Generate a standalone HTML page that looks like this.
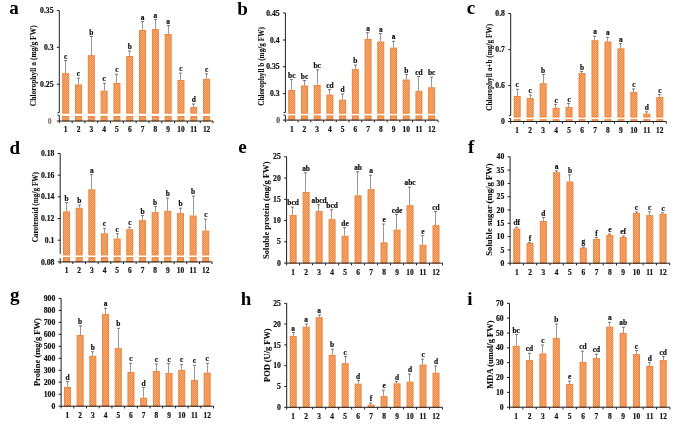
<!DOCTYPE html>
<html><head><meta charset="utf-8"><title>Figure</title>
<style>
html,body{margin:0;padding:0;background:#fff;}
svg{display:block;will-change:transform;filter:blur(0.3px);}
text{font-family:"Liberation Serif",serif;font-weight:bold;fill:#111;stroke:#111;stroke-width:0.2px;}
.pl{font-size:19px;fill:#000;stroke:none;}
.ti{stroke-width:0.08px;}
.lb{font-size:7.4px;}
.xl{font-size:7.4px;}
.yl{font-size:7.7px;}
.g0{font-size:7.6px;}
.ga{fill:#7a7a7a;stroke:#7a7a7a;}
.gb{fill:#555;stroke:#555;}
.bar{fill:url(#pat);stroke:#ee843a;stroke-width:1;}
.eb{stroke:#999;stroke-width:1;}
.ec{stroke:#6a6a6a;stroke-width:0.9;}
.ax{stroke:#1e1e1e;stroke-width:1;fill:none;}
</style></head>
<body>
<svg width="685" height="424" viewBox="0 0 685 424">
<defs>
<pattern id="pat" width="2" height="2" patternUnits="userSpaceOnUse">
<rect width="2" height="2" fill="#ee9150"/>
<rect width="1" height="1" fill="#f2a66c"/>
<rect x="1" y="1" width="1" height="1" fill="#f2a66c"/>
</pattern>
</defs>
<rect width="685" height="424" fill="#fff"/>
<text x="9.3" y="13.9" class="pl">a</text>
<text class="ti" style="font-size:7.5px" transform="translate(36.30,65.75) rotate(-90)" text-anchor="middle">Chlorophyll a (mg/g FW)</text>
<rect class="bar" x="62.70" y="73.65" width="6.0" height="39.45"/>
<rect class="bar" x="62.70" y="116.50" width="6.0" height="4.50"/>
<line class="eb" x1="65.50" y1="73.15" x2="65.50" y2="60.50"/>
<line class="ec" x1="64.00" y1="60.50" x2="67.00" y2="60.50"/>
<text class="lb" x="65.70" y="58.60" text-anchor="middle">c</text>
<text class="xl" x="65.70" y="132.40" text-anchor="middle">1</text>
<rect class="bar" x="75.51" y="84.95" width="6.0" height="28.15"/>
<rect class="bar" x="75.51" y="116.50" width="6.0" height="4.50"/>
<line class="eb" x1="78.50" y1="84.45" x2="78.50" y2="78.10"/>
<line class="ec" x1="77.00" y1="78.10" x2="80.00" y2="78.10"/>
<text class="lb" x="78.51" y="76.20" text-anchor="middle">c</text>
<text class="xl" x="78.51" y="132.40" text-anchor="middle">2</text>
<rect class="bar" x="88.32" y="55.65" width="6.0" height="57.45"/>
<rect class="bar" x="88.32" y="116.50" width="6.0" height="4.50"/>
<line class="eb" x1="91.50" y1="55.15" x2="91.50" y2="36.50"/>
<line class="ec" x1="90.00" y1="36.50" x2="93.00" y2="36.50"/>
<text class="lb" x="91.32" y="34.60" text-anchor="middle">b</text>
<text class="xl" x="91.32" y="132.40" text-anchor="middle">3</text>
<rect class="bar" x="101.13" y="91.15" width="6.0" height="21.95"/>
<rect class="bar" x="101.13" y="116.50" width="6.0" height="4.50"/>
<line class="eb" x1="104.50" y1="90.65" x2="104.50" y2="83.20"/>
<line class="ec" x1="103.00" y1="83.20" x2="106.00" y2="83.20"/>
<text class="lb" x="104.13" y="81.30" text-anchor="middle">c</text>
<text class="xl" x="104.13" y="132.40" text-anchor="middle">4</text>
<rect class="bar" x="113.94" y="83.45" width="6.0" height="29.65"/>
<rect class="bar" x="113.94" y="116.50" width="6.0" height="4.50"/>
<line class="eb" x1="116.50" y1="82.95" x2="116.50" y2="74.30"/>
<line class="ec" x1="115.00" y1="74.30" x2="118.00" y2="74.30"/>
<text class="lb" x="116.94" y="72.40" text-anchor="middle">c</text>
<text class="xl" x="116.94" y="132.40" text-anchor="middle">5</text>
<rect class="bar" x="126.75" y="56.45" width="6.0" height="56.65"/>
<rect class="bar" x="126.75" y="116.50" width="6.0" height="4.50"/>
<line class="eb" x1="129.50" y1="55.95" x2="129.50" y2="51.00"/>
<line class="ec" x1="128.00" y1="51.00" x2="131.00" y2="51.00"/>
<text class="lb" x="129.75" y="49.10" text-anchor="middle">b</text>
<text class="xl" x="129.75" y="132.40" text-anchor="middle">6</text>
<rect class="bar" x="139.55" y="30.55" width="6.0" height="82.55"/>
<rect class="bar" x="139.55" y="116.50" width="6.0" height="4.50"/>
<line class="eb" x1="142.50" y1="30.05" x2="142.50" y2="21.40"/>
<line class="ec" x1="141.00" y1="21.40" x2="144.00" y2="21.40"/>
<text class="lb" x="142.55" y="19.50" text-anchor="middle">a</text>
<text class="xl" x="142.55" y="132.40" text-anchor="middle">7</text>
<rect class="bar" x="152.36" y="29.55" width="6.0" height="83.55"/>
<rect class="bar" x="152.36" y="116.50" width="6.0" height="4.50"/>
<line class="eb" x1="155.50" y1="29.05" x2="155.50" y2="19.50"/>
<line class="ec" x1="154.00" y1="19.50" x2="157.00" y2="19.50"/>
<text class="lb" x="155.36" y="17.60" text-anchor="middle">a</text>
<text class="xl" x="155.36" y="132.40" text-anchor="middle">8</text>
<rect class="bar" x="165.17" y="34.45" width="6.0" height="78.65"/>
<rect class="bar" x="165.17" y="116.50" width="6.0" height="4.50"/>
<line class="eb" x1="168.50" y1="33.95" x2="168.50" y2="25.50"/>
<line class="ec" x1="167.00" y1="25.50" x2="170.00" y2="25.50"/>
<text class="lb" x="168.17" y="23.60" text-anchor="middle">a</text>
<text class="xl" x="168.17" y="132.40" text-anchor="middle">9</text>
<rect class="bar" x="177.98" y="80.45" width="6.0" height="32.65"/>
<rect class="bar" x="177.98" y="116.50" width="6.0" height="4.50"/>
<line class="eb" x1="180.50" y1="79.95" x2="180.50" y2="73.20"/>
<line class="ec" x1="179.00" y1="73.20" x2="182.00" y2="73.20"/>
<text class="lb" x="180.98" y="71.30" text-anchor="middle">c</text>
<text class="xl" x="180.98" y="132.40" text-anchor="middle">10</text>
<rect class="bar" x="190.79" y="107.65" width="6.0" height="5.45"/>
<rect class="bar" x="190.79" y="116.50" width="6.0" height="4.50"/>
<line class="eb" x1="193.50" y1="107.15" x2="193.50" y2="104.00"/>
<line class="ec" x1="192.00" y1="104.00" x2="195.00" y2="104.00"/>
<text class="lb" x="193.79" y="102.10" text-anchor="middle">d</text>
<text class="xl" x="193.79" y="132.40" text-anchor="middle">11</text>
<rect class="bar" x="203.60" y="79.35" width="6.0" height="33.75"/>
<rect class="bar" x="203.60" y="116.50" width="6.0" height="4.50"/>
<line class="eb" x1="206.50" y1="78.85" x2="206.50" y2="73.90"/>
<line class="ec" x1="205.00" y1="73.90" x2="208.00" y2="73.90"/>
<text class="lb" x="206.60" y="72.00" text-anchor="middle">c</text>
<text class="xl" x="206.60" y="132.40" text-anchor="middle">12</text>
<path class="ax" d="M59.3,10.6 V112.4 M59.3,115.3 V121.0"/>
<path class="ax" d="M57.5,112.7 L59.3,112.4 M57.5,115.0 L59.3,115.3"/>
<path class="ax" d="M59.3,121.0 H213.0"/>
<path class="ax" d="M56.8,10.60 H59.3"/>
<text class="yl" x="53.50" y="13.20" text-anchor="end">0.35</text>
<path class="ax" d="M56.8,47.30 H59.3"/>
<text class="yl" x="53.50" y="49.90" text-anchor="end">0.3</text>
<path class="ax" d="M56.8,84.20 H59.3"/>
<text class="yl" x="53.50" y="86.80" text-anchor="end">0.25</text>
<path class="ax" d="M56.8,121.00 H59.3"/>
<text class="yl g0 ga" x="51.60" y="123.60" text-anchor="end">0</text>
<path class="ax" d="M59.30,121.0 V123.2"/>
<path class="ax" d="M72.11,121.0 V123.2"/>
<path class="ax" d="M84.92,121.0 V123.2"/>
<path class="ax" d="M97.72,121.0 V123.2"/>
<path class="ax" d="M110.53,121.0 V123.2"/>
<path class="ax" d="M123.34,121.0 V123.2"/>
<path class="ax" d="M136.15,121.0 V123.2"/>
<path class="ax" d="M148.96,121.0 V123.2"/>
<path class="ax" d="M161.77,121.0 V123.2"/>
<path class="ax" d="M174.57,121.0 V123.2"/>
<path class="ax" d="M187.38,121.0 V123.2"/>
<path class="ax" d="M200.19,121.0 V123.2"/>
<path class="ax" d="M213.00,121.0 V123.2"/>
<text x="237.3" y="14.9" class="pl">b</text>
<text class="ti" style="font-size:7.25px" transform="translate(263.78,66.50) rotate(-90)" text-anchor="middle">Chlorophyll b (mg/g FW)</text>
<rect class="bar" x="288.76" y="90.45" width="6.0" height="22.75"/>
<rect class="bar" x="288.76" y="115.90" width="6.0" height="4.20"/>
<line class="eb" x1="291.50" y1="89.95" x2="291.50" y2="79.60"/>
<line class="ec" x1="290.00" y1="79.60" x2="293.00" y2="79.60"/>
<text class="lb" x="291.76" y="77.70" text-anchor="middle">bc</text>
<text class="xl" x="291.76" y="131.50" text-anchor="middle">1</text>
<rect class="bar" x="301.47" y="85.95" width="6.0" height="27.25"/>
<rect class="bar" x="301.47" y="115.90" width="6.0" height="4.20"/>
<line class="eb" x1="304.50" y1="85.45" x2="304.50" y2="80.50"/>
<line class="ec" x1="303.00" y1="80.50" x2="306.00" y2="80.50"/>
<text class="lb" x="304.47" y="78.60" text-anchor="middle">bc</text>
<text class="xl" x="304.47" y="131.50" text-anchor="middle">2</text>
<rect class="bar" x="314.19" y="85.45" width="6.0" height="27.75"/>
<rect class="bar" x="314.19" y="115.90" width="6.0" height="4.20"/>
<line class="eb" x1="317.50" y1="84.95" x2="317.50" y2="69.80"/>
<line class="ec" x1="316.00" y1="69.80" x2="319.00" y2="69.80"/>
<text class="lb" x="317.19" y="67.90" text-anchor="middle">bc</text>
<text class="xl" x="317.19" y="131.50" text-anchor="middle">3</text>
<rect class="bar" x="326.91" y="95.15" width="6.0" height="18.05"/>
<rect class="bar" x="326.91" y="115.90" width="6.0" height="4.20"/>
<line class="eb" x1="329.50" y1="94.65" x2="329.50" y2="89.70"/>
<line class="ec" x1="328.00" y1="89.70" x2="331.00" y2="89.70"/>
<text class="lb" x="329.91" y="87.80" text-anchor="middle">cd</text>
<text class="xl" x="329.91" y="131.50" text-anchor="middle">4</text>
<rect class="bar" x="339.62" y="100.15" width="6.0" height="13.05"/>
<rect class="bar" x="339.62" y="115.90" width="6.0" height="4.20"/>
<line class="eb" x1="342.50" y1="99.65" x2="342.50" y2="94.00"/>
<line class="ec" x1="341.00" y1="94.00" x2="344.00" y2="94.00"/>
<text class="lb" x="342.62" y="92.10" text-anchor="middle">d</text>
<text class="xl" x="342.62" y="131.50" text-anchor="middle">5</text>
<rect class="bar" x="352.34" y="69.65" width="6.0" height="43.55"/>
<rect class="bar" x="352.34" y="115.90" width="6.0" height="4.20"/>
<line class="eb" x1="355.50" y1="69.15" x2="355.50" y2="65.10"/>
<line class="ec" x1="354.00" y1="65.10" x2="357.00" y2="65.10"/>
<text class="lb" x="355.34" y="63.20" text-anchor="middle">b</text>
<text class="xl" x="355.34" y="131.50" text-anchor="middle">6</text>
<rect class="bar" x="365.06" y="39.45" width="6.0" height="73.75"/>
<rect class="bar" x="365.06" y="115.90" width="6.0" height="4.20"/>
<line class="eb" x1="367.50" y1="38.95" x2="367.50" y2="32.60"/>
<line class="ec" x1="366.00" y1="32.60" x2="369.00" y2="32.60"/>
<text class="lb" x="368.06" y="30.70" text-anchor="middle">a</text>
<text class="xl" x="368.06" y="131.50" text-anchor="middle">7</text>
<rect class="bar" x="377.77" y="42.05" width="6.0" height="71.15"/>
<rect class="bar" x="377.77" y="115.90" width="6.0" height="4.20"/>
<line class="eb" x1="380.50" y1="41.55" x2="380.50" y2="33.60"/>
<line class="ec" x1="379.00" y1="33.60" x2="382.00" y2="33.60"/>
<text class="lb" x="380.77" y="31.70" text-anchor="middle">a</text>
<text class="xl" x="380.77" y="131.50" text-anchor="middle">8</text>
<rect class="bar" x="390.49" y="48.15" width="6.0" height="65.05"/>
<rect class="bar" x="390.49" y="115.90" width="6.0" height="4.20"/>
<line class="eb" x1="393.50" y1="47.65" x2="393.50" y2="41.30"/>
<line class="ec" x1="392.00" y1="41.30" x2="395.00" y2="41.30"/>
<text class="lb" x="393.49" y="39.40" text-anchor="middle">a</text>
<text class="xl" x="393.49" y="131.50" text-anchor="middle">9</text>
<rect class="bar" x="403.21" y="80.05" width="6.0" height="33.15"/>
<rect class="bar" x="403.21" y="115.90" width="6.0" height="4.20"/>
<line class="eb" x1="406.50" y1="79.55" x2="406.50" y2="74.50"/>
<line class="ec" x1="405.00" y1="74.50" x2="408.00" y2="74.50"/>
<text class="lb" x="406.21" y="72.60" text-anchor="middle">b</text>
<text class="xl" x="406.21" y="131.50" text-anchor="middle">10</text>
<rect class="bar" x="415.93" y="91.55" width="6.0" height="21.65"/>
<rect class="bar" x="415.93" y="115.90" width="6.0" height="4.20"/>
<line class="eb" x1="418.50" y1="91.05" x2="418.50" y2="76.50"/>
<line class="ec" x1="417.00" y1="76.50" x2="420.00" y2="76.50"/>
<text class="lb" x="418.93" y="74.60" text-anchor="middle">cd</text>
<text class="xl" x="418.93" y="131.50" text-anchor="middle">11</text>
<rect class="bar" x="428.64" y="87.75" width="6.0" height="25.45"/>
<rect class="bar" x="428.64" y="115.90" width="6.0" height="4.20"/>
<line class="eb" x1="431.50" y1="87.25" x2="431.50" y2="77.20"/>
<line class="ec" x1="430.00" y1="77.20" x2="433.00" y2="77.20"/>
<text class="lb" x="431.64" y="75.30" text-anchor="middle">bc</text>
<text class="xl" x="431.64" y="131.50" text-anchor="middle">12</text>
<path class="ax" d="M285.4,13.0 V112.4 M285.4,115.3 V120.1"/>
<path class="ax" d="M283.59999999999997,112.7 L285.4,112.4 M283.59999999999997,115.0 L285.4,115.3"/>
<path class="ax" d="M285.4,120.1 H438.0"/>
<path class="ax" d="M282.9,13.00 H285.4"/>
<text class="yl" x="279.60" y="15.60" text-anchor="end">0.45</text>
<path class="ax" d="M282.9,40.00 H285.4"/>
<text class="yl" x="279.60" y="42.60" text-anchor="end">0.4</text>
<path class="ax" d="M282.9,66.80 H285.4"/>
<text class="yl" x="279.60" y="69.40" text-anchor="end">0.35</text>
<path class="ax" d="M282.9,93.60 H285.4"/>
<text class="yl" x="279.60" y="96.20" text-anchor="end">0.3</text>
<path class="ax" d="M282.9,120.10 H285.4"/>
<text class="yl g0 gb" x="280.10" y="122.70" text-anchor="end">0</text>
<path class="ax" d="M285.40,120.1 V122.3"/>
<path class="ax" d="M298.12,120.1 V122.3"/>
<path class="ax" d="M310.83,120.1 V122.3"/>
<path class="ax" d="M323.55,120.1 V122.3"/>
<path class="ax" d="M336.27,120.1 V122.3"/>
<path class="ax" d="M348.98,120.1 V122.3"/>
<path class="ax" d="M361.70,120.1 V122.3"/>
<path class="ax" d="M374.42,120.1 V122.3"/>
<path class="ax" d="M387.13,120.1 V122.3"/>
<path class="ax" d="M399.85,120.1 V122.3"/>
<path class="ax" d="M412.57,120.1 V122.3"/>
<path class="ax" d="M425.28,120.1 V122.3"/>
<path class="ax" d="M438.00,120.1 V122.3"/>
<text x="466.7" y="13.9" class="pl">c</text>
<text class="ti" style="font-size:7.3px" transform="translate(491.94,67.30) rotate(-90)" text-anchor="middle">Chlorophyll a+b (mg/g FW)</text>
<rect class="bar" x="514.18" y="96.45" width="6.0" height="20.55"/>
<rect class="bar" x="514.18" y="119.70" width="6.0" height="1.80"/>
<line class="eb" x1="517.50" y1="95.95" x2="517.50" y2="89.30"/>
<line class="ec" x1="516.00" y1="89.30" x2="519.00" y2="89.30"/>
<text class="lb" x="517.18" y="87.40" text-anchor="middle">c</text>
<text class="xl" x="517.18" y="132.90" text-anchor="middle">1</text>
<rect class="bar" x="527.15" y="98.45" width="6.0" height="18.55"/>
<rect class="bar" x="527.15" y="119.70" width="6.0" height="1.80"/>
<line class="eb" x1="530.50" y1="97.95" x2="530.50" y2="95.00"/>
<line class="ec" x1="529.00" y1="95.00" x2="532.00" y2="95.00"/>
<text class="lb" x="530.15" y="93.10" text-anchor="middle">c</text>
<text class="xl" x="530.15" y="132.90" text-anchor="middle">2</text>
<rect class="bar" x="540.12" y="83.75" width="6.0" height="33.25"/>
<rect class="bar" x="540.12" y="119.70" width="6.0" height="1.80"/>
<line class="eb" x1="543.50" y1="83.25" x2="543.50" y2="74.50"/>
<line class="ec" x1="542.00" y1="74.50" x2="545.00" y2="74.50"/>
<text class="lb" x="543.12" y="72.60" text-anchor="middle">b</text>
<text class="xl" x="543.12" y="132.90" text-anchor="middle">3</text>
<rect class="bar" x="553.08" y="108.25" width="6.0" height="8.75"/>
<rect class="bar" x="553.08" y="119.70" width="6.0" height="1.80"/>
<line class="eb" x1="555.50" y1="107.75" x2="555.50" y2="104.40"/>
<line class="ec" x1="554.00" y1="104.40" x2="557.00" y2="104.40"/>
<text class="lb" x="556.08" y="102.50" text-anchor="middle">c</text>
<text class="xl" x="556.08" y="132.90" text-anchor="middle">4</text>
<rect class="bar" x="566.05" y="107.55" width="6.0" height="9.45"/>
<rect class="bar" x="566.05" y="119.70" width="6.0" height="1.80"/>
<line class="eb" x1="568.50" y1="107.05" x2="568.50" y2="103.40"/>
<line class="ec" x1="567.00" y1="103.40" x2="570.00" y2="103.40"/>
<text class="lb" x="569.05" y="101.50" text-anchor="middle">c</text>
<text class="xl" x="569.05" y="132.90" text-anchor="middle">5</text>
<rect class="bar" x="579.02" y="73.65" width="6.0" height="43.35"/>
<rect class="bar" x="579.02" y="119.70" width="6.0" height="1.80"/>
<line class="eb" x1="581.50" y1="73.15" x2="581.50" y2="71.50"/>
<line class="ec" x1="580.00" y1="71.50" x2="583.00" y2="71.50"/>
<text class="lb" x="582.02" y="69.60" text-anchor="middle">b</text>
<text class="xl" x="582.02" y="132.90" text-anchor="middle">6</text>
<rect class="bar" x="591.98" y="40.75" width="6.0" height="76.25"/>
<rect class="bar" x="591.98" y="119.70" width="6.0" height="1.80"/>
<line class="eb" x1="594.50" y1="40.25" x2="594.50" y2="36.30"/>
<line class="ec" x1="593.00" y1="36.30" x2="596.00" y2="36.30"/>
<text class="lb" x="594.98" y="34.40" text-anchor="middle">a</text>
<text class="xl" x="594.98" y="132.90" text-anchor="middle">7</text>
<rect class="bar" x="604.95" y="42.05" width="6.0" height="74.95"/>
<rect class="bar" x="604.95" y="119.70" width="6.0" height="1.80"/>
<line class="eb" x1="607.50" y1="41.55" x2="607.50" y2="37.30"/>
<line class="ec" x1="606.00" y1="37.30" x2="609.00" y2="37.30"/>
<text class="lb" x="607.95" y="35.40" text-anchor="middle">a</text>
<text class="xl" x="607.95" y="132.90" text-anchor="middle">8</text>
<rect class="bar" x="617.92" y="48.85" width="6.0" height="68.15"/>
<rect class="bar" x="617.92" y="119.70" width="6.0" height="1.80"/>
<line class="eb" x1="620.50" y1="48.35" x2="620.50" y2="43.70"/>
<line class="ec" x1="619.00" y1="43.70" x2="622.00" y2="43.70"/>
<text class="lb" x="620.92" y="41.80" text-anchor="middle">a</text>
<text class="xl" x="620.92" y="132.90" text-anchor="middle">9</text>
<rect class="bar" x="630.88" y="92.45" width="6.0" height="24.55"/>
<rect class="bar" x="630.88" y="119.70" width="6.0" height="1.80"/>
<line class="eb" x1="633.50" y1="91.95" x2="633.50" y2="89.00"/>
<line class="ec" x1="632.00" y1="89.00" x2="635.00" y2="89.00"/>
<text class="lb" x="633.88" y="87.10" text-anchor="middle">c</text>
<text class="xl" x="633.88" y="132.90" text-anchor="middle">10</text>
<rect class="bar" x="643.85" y="114.15" width="6.0" height="2.85"/>
<rect class="bar" x="643.85" y="119.70" width="6.0" height="1.80"/>
<line class="eb" x1="646.50" y1="113.65" x2="646.50" y2="111.80"/>
<line class="ec" x1="645.00" y1="111.80" x2="648.00" y2="111.80"/>
<text class="lb" x="646.85" y="109.90" text-anchor="middle">d</text>
<text class="xl" x="646.85" y="132.90" text-anchor="middle">11</text>
<rect class="bar" x="656.82" y="97.55" width="6.0" height="19.45"/>
<rect class="bar" x="656.82" y="119.70" width="6.0" height="1.80"/>
<line class="eb" x1="659.50" y1="97.05" x2="659.50" y2="94.70"/>
<line class="ec" x1="658.00" y1="94.70" x2="661.00" y2="94.70"/>
<text class="lb" x="659.82" y="92.80" text-anchor="middle">c</text>
<text class="xl" x="659.82" y="132.90" text-anchor="middle">12</text>
<path class="ax" d="M510.7,13.5 V115.5 M510.7,118.6 V121.5"/>
<path class="ax" d="M508.9,115.8 L510.7,115.5 M508.9,118.3 L510.7,118.6"/>
<path class="ax" d="M510.7,121.5 H666.3"/>
<path class="ax" d="M508.2,13.50 H510.7"/>
<text class="yl" x="504.90" y="16.10" text-anchor="end">0.8</text>
<path class="ax" d="M508.2,49.60 H510.7"/>
<text class="yl" x="504.90" y="52.20" text-anchor="end">0.7</text>
<path class="ax" d="M508.2,85.50 H510.7"/>
<text class="yl" x="504.90" y="88.10" text-anchor="end">0.6</text>
<path class="ax" d="M508.2,121.50 H510.7"/>
<text class="yl" x="504.90" y="124.10" text-anchor="end">0</text>
<path class="ax" d="M510.70,121.5 V123.7"/>
<path class="ax" d="M523.67,121.5 V123.7"/>
<path class="ax" d="M536.63,121.5 V123.7"/>
<path class="ax" d="M549.60,121.5 V123.7"/>
<path class="ax" d="M562.57,121.5 V123.7"/>
<path class="ax" d="M575.53,121.5 V123.7"/>
<path class="ax" d="M588.50,121.5 V123.7"/>
<path class="ax" d="M601.47,121.5 V123.7"/>
<path class="ax" d="M614.43,121.5 V123.7"/>
<path class="ax" d="M627.40,121.5 V123.7"/>
<path class="ax" d="M640.37,121.5 V123.7"/>
<path class="ax" d="M653.33,121.5 V123.7"/>
<path class="ax" d="M666.30,121.5 V123.7"/>
<text x="9.6" y="153.9" class="pl">d</text>
<text class="ti" style="font-size:7.25px" transform="translate(38.42,207.20) rotate(-90)" text-anchor="middle">Carotenoid (mg/g FW)</text>
<rect class="bar" x="63.53" y="211.95" width="6.0" height="42.95"/>
<rect class="bar" x="63.53" y="257.60" width="6.0" height="4.30"/>
<line class="eb" x1="66.50" y1="211.45" x2="66.50" y2="202.50"/>
<line class="ec" x1="65.00" y1="202.50" x2="68.00" y2="202.50"/>
<text class="lb" x="66.53" y="200.60" text-anchor="middle">b</text>
<text class="xl" x="66.53" y="273.30" text-anchor="middle">1</text>
<rect class="bar" x="76.19" y="208.25" width="6.0" height="46.65"/>
<rect class="bar" x="76.19" y="257.60" width="6.0" height="4.30"/>
<line class="eb" x1="79.50" y1="207.75" x2="79.50" y2="205.10"/>
<line class="ec" x1="78.00" y1="205.10" x2="81.00" y2="205.10"/>
<text class="lb" x="79.19" y="203.20" text-anchor="middle">b</text>
<text class="xl" x="79.19" y="273.30" text-anchor="middle">2</text>
<rect class="bar" x="88.85" y="189.85" width="6.0" height="65.05"/>
<rect class="bar" x="88.85" y="257.60" width="6.0" height="4.30"/>
<line class="eb" x1="91.50" y1="189.35" x2="91.50" y2="174.60"/>
<line class="ec" x1="90.00" y1="174.60" x2="93.00" y2="174.60"/>
<text class="lb" x="91.85" y="172.70" text-anchor="middle">a</text>
<text class="xl" x="91.85" y="273.30" text-anchor="middle">3</text>
<rect class="bar" x="101.50" y="233.85" width="6.0" height="21.05"/>
<rect class="bar" x="101.50" y="257.60" width="6.0" height="4.30"/>
<line class="eb" x1="104.50" y1="233.35" x2="104.50" y2="228.30"/>
<line class="ec" x1="103.00" y1="228.30" x2="106.00" y2="228.30"/>
<text class="lb" x="104.50" y="226.40" text-anchor="middle">c</text>
<text class="xl" x="104.50" y="273.30" text-anchor="middle">4</text>
<rect class="bar" x="114.16" y="239.05" width="6.0" height="15.85"/>
<rect class="bar" x="114.16" y="257.60" width="6.0" height="4.30"/>
<line class="eb" x1="117.50" y1="238.55" x2="117.50" y2="233.60"/>
<line class="ec" x1="116.00" y1="233.60" x2="119.00" y2="233.60"/>
<text class="lb" x="117.16" y="231.70" text-anchor="middle">c</text>
<text class="xl" x="117.16" y="273.30" text-anchor="middle">5</text>
<rect class="bar" x="126.82" y="229.75" width="6.0" height="25.15"/>
<rect class="bar" x="126.82" y="257.60" width="6.0" height="4.30"/>
<line class="eb" x1="129.50" y1="229.25" x2="129.50" y2="227.30"/>
<line class="ec" x1="128.00" y1="227.30" x2="131.00" y2="227.30"/>
<text class="lb" x="129.82" y="225.40" text-anchor="middle">c</text>
<text class="xl" x="129.82" y="273.30" text-anchor="middle">6</text>
<rect class="bar" x="139.48" y="220.75" width="6.0" height="34.15"/>
<rect class="bar" x="139.48" y="257.60" width="6.0" height="4.30"/>
<line class="eb" x1="142.50" y1="220.25" x2="142.50" y2="215.60"/>
<line class="ec" x1="141.00" y1="215.60" x2="144.00" y2="215.60"/>
<text class="lb" x="142.48" y="213.70" text-anchor="middle">b</text>
<text class="xl" x="142.48" y="273.30" text-anchor="middle">7</text>
<rect class="bar" x="152.14" y="212.65" width="6.0" height="42.25"/>
<rect class="bar" x="152.14" y="257.60" width="6.0" height="4.30"/>
<line class="eb" x1="155.50" y1="212.15" x2="155.50" y2="206.50"/>
<line class="ec" x1="154.00" y1="206.50" x2="157.00" y2="206.50"/>
<text class="lb" x="155.14" y="204.60" text-anchor="middle">b</text>
<text class="xl" x="155.14" y="273.30" text-anchor="middle">8</text>
<rect class="bar" x="164.80" y="211.35" width="6.0" height="43.55"/>
<rect class="bar" x="164.80" y="257.60" width="6.0" height="4.30"/>
<line class="eb" x1="167.50" y1="210.85" x2="167.50" y2="198.10"/>
<line class="ec" x1="166.00" y1="198.10" x2="169.00" y2="198.10"/>
<text class="lb" x="167.80" y="196.20" text-anchor="middle">b</text>
<text class="xl" x="167.80" y="273.30" text-anchor="middle">9</text>
<rect class="bar" x="177.45" y="213.65" width="6.0" height="41.25"/>
<rect class="bar" x="177.45" y="257.60" width="6.0" height="4.30"/>
<line class="eb" x1="180.50" y1="213.15" x2="180.50" y2="208.20"/>
<line class="ec" x1="179.00" y1="208.20" x2="182.00" y2="208.20"/>
<text class="lb" x="180.45" y="206.30" text-anchor="middle">b</text>
<text class="xl" x="180.45" y="273.30" text-anchor="middle">10</text>
<rect class="bar" x="190.11" y="216.05" width="6.0" height="38.85"/>
<rect class="bar" x="190.11" y="257.60" width="6.0" height="4.30"/>
<line class="eb" x1="193.50" y1="215.55" x2="193.50" y2="196.10"/>
<line class="ec" x1="192.00" y1="196.10" x2="195.00" y2="196.10"/>
<text class="lb" x="193.11" y="194.20" text-anchor="middle">b</text>
<text class="xl" x="193.11" y="273.30" text-anchor="middle">11</text>
<rect class="bar" x="202.77" y="231.15" width="6.0" height="23.75"/>
<rect class="bar" x="202.77" y="257.60" width="6.0" height="4.30"/>
<line class="eb" x1="205.50" y1="230.65" x2="205.50" y2="219.20"/>
<line class="ec" x1="204.00" y1="219.20" x2="207.00" y2="219.20"/>
<text class="lb" x="205.77" y="217.30" text-anchor="middle">c</text>
<text class="xl" x="205.77" y="273.30" text-anchor="middle">12</text>
<path class="ax" d="M60.2,153.5 V253.8 M60.2,258.2 V261.9"/>
<path class="ax" d="M60.2,261.9 H212.1"/>
<path class="ax" d="M57.7,153.50 H60.2"/>
<text class="yl" x="54.40" y="156.10" text-anchor="end">0.18</text>
<path class="ax" d="M57.7,175.18 H60.2"/>
<text class="yl" x="54.40" y="177.78" text-anchor="end">0.16</text>
<path class="ax" d="M57.7,196.86 H60.2"/>
<text class="yl" x="54.40" y="199.46" text-anchor="end">0.14</text>
<path class="ax" d="M57.7,218.54 H60.2"/>
<text class="yl" x="54.40" y="221.14" text-anchor="end">0.12</text>
<path class="ax" d="M57.7,240.22 H60.2"/>
<text class="yl" x="54.40" y="242.82" text-anchor="end">0.1</text>
<path class="ax" d="M57.7,261.90 H60.2"/>
<text class="yl" x="54.40" y="264.50" text-anchor="end">0.08</text>
<path class="ax" d="M60.20,261.9 V264.09999999999997"/>
<path class="ax" d="M72.86,261.9 V264.09999999999997"/>
<path class="ax" d="M85.52,261.9 V264.09999999999997"/>
<path class="ax" d="M98.17,261.9 V264.09999999999997"/>
<path class="ax" d="M110.83,261.9 V264.09999999999997"/>
<path class="ax" d="M123.49,261.9 V264.09999999999997"/>
<path class="ax" d="M136.15,261.9 V264.09999999999997"/>
<path class="ax" d="M148.81,261.9 V264.09999999999997"/>
<path class="ax" d="M161.47,261.9 V264.09999999999997"/>
<path class="ax" d="M174.12,261.9 V264.09999999999997"/>
<path class="ax" d="M186.78,261.9 V264.09999999999997"/>
<path class="ax" d="M199.44,261.9 V264.09999999999997"/>
<path class="ax" d="M212.10,261.9 V264.09999999999997"/>
<text x="238.2" y="153.0" class="pl">e</text>
<text class="ti" style="font-size:8.55px" transform="translate(269.46,210.20) rotate(-90)" text-anchor="middle">Soluble protein (mg/g FW)</text>
<rect class="bar" x="290.10" y="215.45" width="6.0" height="47.65"/>
<line class="eb" x1="292.50" y1="214.95" x2="292.50" y2="207.20"/>
<line class="ec" x1="291.00" y1="207.20" x2="294.00" y2="207.20"/>
<text class="lb" x="293.10" y="205.30" text-anchor="middle">bcd</text>
<text class="xl" x="293.10" y="274.50" text-anchor="middle">1</text>
<rect class="bar" x="303.09" y="192.45" width="6.0" height="70.65"/>
<line class="eb" x1="305.50" y1="191.95" x2="305.50" y2="172.90"/>
<line class="ec" x1="304.00" y1="172.90" x2="307.00" y2="172.90"/>
<text class="lb" x="306.09" y="171.00" text-anchor="middle">ab</text>
<text class="xl" x="306.09" y="274.50" text-anchor="middle">2</text>
<rect class="bar" x="316.08" y="211.65" width="6.0" height="51.45"/>
<line class="eb" x1="318.50" y1="211.15" x2="318.50" y2="204.80"/>
<line class="ec" x1="317.00" y1="204.80" x2="320.00" y2="204.80"/>
<text class="lb" x="319.08" y="202.90" text-anchor="middle">abcd</text>
<text class="xl" x="319.08" y="274.50" text-anchor="middle">3</text>
<rect class="bar" x="329.07" y="219.65" width="6.0" height="43.45"/>
<line class="eb" x1="331.50" y1="219.15" x2="331.50" y2="209.80"/>
<line class="ec" x1="330.00" y1="209.80" x2="333.00" y2="209.80"/>
<text class="lb" x="332.07" y="207.90" text-anchor="middle">bcd</text>
<text class="xl" x="332.07" y="274.50" text-anchor="middle">4</text>
<rect class="bar" x="342.06" y="236.25" width="6.0" height="26.85"/>
<line class="eb" x1="344.50" y1="235.75" x2="344.50" y2="227.60"/>
<line class="ec" x1="343.00" y1="227.60" x2="346.00" y2="227.60"/>
<text class="lb" x="345.06" y="225.70" text-anchor="middle">de</text>
<text class="xl" x="345.06" y="274.50" text-anchor="middle">5</text>
<rect class="bar" x="355.05" y="195.85" width="6.0" height="67.25"/>
<line class="eb" x1="357.50" y1="195.35" x2="357.50" y2="171.80"/>
<line class="ec" x1="356.00" y1="171.80" x2="359.00" y2="171.80"/>
<text class="lb" x="358.05" y="169.90" text-anchor="middle">ab</text>
<text class="xl" x="358.05" y="274.50" text-anchor="middle">6</text>
<rect class="bar" x="368.05" y="189.65" width="6.0" height="73.45"/>
<line class="eb" x1="370.50" y1="189.15" x2="370.50" y2="175.30"/>
<line class="ec" x1="369.00" y1="175.30" x2="372.00" y2="175.30"/>
<text class="lb" x="371.05" y="173.40" text-anchor="middle">a</text>
<text class="xl" x="371.05" y="274.50" text-anchor="middle">7</text>
<rect class="bar" x="381.04" y="242.85" width="6.0" height="20.25"/>
<line class="eb" x1="383.50" y1="242.35" x2="383.50" y2="224.00"/>
<line class="ec" x1="382.00" y1="224.00" x2="385.00" y2="224.00"/>
<text class="lb" x="384.04" y="222.10" text-anchor="middle">e</text>
<text class="xl" x="384.04" y="274.50" text-anchor="middle">8</text>
<rect class="bar" x="394.03" y="230.15" width="6.0" height="32.95"/>
<line class="eb" x1="396.50" y1="229.65" x2="396.50" y2="214.50"/>
<line class="ec" x1="395.00" y1="214.50" x2="398.00" y2="214.50"/>
<text class="lb" x="397.03" y="212.60" text-anchor="middle">cde</text>
<text class="xl" x="397.03" y="274.50" text-anchor="middle">9</text>
<rect class="bar" x="407.02" y="205.75" width="6.0" height="57.35"/>
<line class="eb" x1="409.50" y1="205.25" x2="409.50" y2="187.20"/>
<line class="ec" x1="408.00" y1="187.20" x2="411.00" y2="187.20"/>
<text class="lb" x="410.02" y="185.30" text-anchor="middle">abc</text>
<text class="xl" x="410.02" y="274.50" text-anchor="middle">10</text>
<rect class="bar" x="420.01" y="245.35" width="6.0" height="17.75"/>
<line class="eb" x1="422.50" y1="244.85" x2="422.50" y2="235.70"/>
<line class="ec" x1="421.00" y1="235.70" x2="424.00" y2="235.70"/>
<text class="lb" x="423.01" y="233.80" text-anchor="middle">e</text>
<text class="xl" x="423.01" y="274.50" text-anchor="middle">11</text>
<rect class="bar" x="433.00" y="225.65" width="6.0" height="37.45"/>
<line class="eb" x1="435.50" y1="225.15" x2="435.50" y2="211.60"/>
<line class="ec" x1="434.00" y1="211.60" x2="437.00" y2="211.60"/>
<text class="lb" x="436.00" y="209.70" text-anchor="middle">cd</text>
<text class="xl" x="436.00" y="274.50" text-anchor="middle">12</text>
<path class="ax" d="M286.6,156.8 V263.1"/>
<path class="ax" d="M286.6,263.1 H442.5"/>
<path class="ax" d="M284.1,156.80 H286.6"/>
<text class="yl" x="280.80" y="159.40" text-anchor="end">25</text>
<path class="ax" d="M284.1,178.06 H286.6"/>
<text class="yl" x="280.80" y="180.66" text-anchor="end">20</text>
<path class="ax" d="M284.1,199.32 H286.6"/>
<text class="yl" x="280.80" y="201.92" text-anchor="end">15</text>
<path class="ax" d="M284.1,220.58 H286.6"/>
<text class="yl" x="280.80" y="223.18" text-anchor="end">10</text>
<path class="ax" d="M284.1,241.84 H286.6"/>
<text class="yl" x="280.80" y="244.44" text-anchor="end">5</text>
<path class="ax" d="M284.1,263.10 H286.6"/>
<text class="yl" x="280.80" y="265.70" text-anchor="end">0</text>
<path class="ax" d="M286.60,263.1 V265.3"/>
<path class="ax" d="M299.59,263.1 V265.3"/>
<path class="ax" d="M312.58,263.1 V265.3"/>
<path class="ax" d="M325.58,263.1 V265.3"/>
<path class="ax" d="M338.57,263.1 V265.3"/>
<path class="ax" d="M351.56,263.1 V265.3"/>
<path class="ax" d="M364.55,263.1 V265.3"/>
<path class="ax" d="M377.54,263.1 V265.3"/>
<path class="ax" d="M390.53,263.1 V265.3"/>
<path class="ax" d="M403.52,263.1 V265.3"/>
<path class="ax" d="M416.52,263.1 V265.3"/>
<path class="ax" d="M429.51,263.1 V265.3"/>
<path class="ax" d="M442.50,263.1 V265.3"/>
<text x="468.1" y="153.1" class="pl">f</text>
<text class="ti" style="font-size:8.66px" transform="translate(492.40,209.50) rotate(-90)" text-anchor="middle">Soluble sugar (mg/g FW)</text>
<rect class="bar" x="513.75" y="229.05" width="6.0" height="34.15"/>
<line class="eb" x1="516.50" y1="228.55" x2="516.50" y2="227.30"/>
<line class="ec" x1="515.00" y1="227.30" x2="518.00" y2="227.30"/>
<text class="lb" x="516.75" y="225.40" text-anchor="middle">df</text>
<text class="xl" x="516.75" y="274.60" text-anchor="middle">1</text>
<rect class="bar" x="527.05" y="243.55" width="6.0" height="19.65"/>
<line class="eb" x1="529.50" y1="243.05" x2="529.50" y2="242.40"/>
<line class="ec" x1="528.00" y1="242.40" x2="531.00" y2="242.40"/>
<text class="lb" x="530.05" y="240.50" text-anchor="middle">f</text>
<text class="xl" x="530.05" y="274.60" text-anchor="middle">2</text>
<rect class="bar" x="540.35" y="221.45" width="6.0" height="41.75"/>
<line class="eb" x1="543.50" y1="220.95" x2="543.50" y2="217.50"/>
<line class="ec" x1="542.00" y1="217.50" x2="545.00" y2="217.50"/>
<text class="lb" x="543.35" y="215.60" text-anchor="middle">d</text>
<text class="xl" x="543.35" y="274.60" text-anchor="middle">3</text>
<rect class="bar" x="553.65" y="172.75" width="6.0" height="90.45"/>
<line class="eb" x1="556.50" y1="172.25" x2="556.50" y2="170.80"/>
<line class="ec" x1="555.00" y1="170.80" x2="558.00" y2="170.80"/>
<text class="lb" x="556.65" y="168.90" text-anchor="middle">a</text>
<text class="xl" x="556.65" y="274.60" text-anchor="middle">4</text>
<rect class="bar" x="566.95" y="182.05" width="6.0" height="81.15"/>
<line class="eb" x1="569.50" y1="181.55" x2="569.50" y2="174.90"/>
<line class="ec" x1="568.00" y1="174.90" x2="571.00" y2="174.90"/>
<text class="lb" x="569.95" y="173.00" text-anchor="middle">b</text>
<text class="xl" x="569.95" y="274.60" text-anchor="middle">5</text>
<rect class="bar" x="580.25" y="248.15" width="6.0" height="15.05"/>
<line class="eb" x1="583.50" y1="247.65" x2="583.50" y2="247.00"/>
<line class="ec" x1="582.00" y1="247.00" x2="585.00" y2="247.00"/>
<text class="lb" x="583.25" y="243.50" text-anchor="middle">g</text>
<text class="xl" x="583.25" y="274.60" text-anchor="middle">6</text>
<rect class="bar" x="593.55" y="239.35" width="6.0" height="23.85"/>
<line class="eb" x1="596.50" y1="238.85" x2="596.50" y2="237.40"/>
<line class="ec" x1="595.00" y1="237.40" x2="598.00" y2="237.40"/>
<text class="lb" x="596.55" y="235.50" text-anchor="middle">f</text>
<text class="xl" x="596.55" y="274.60" text-anchor="middle">7</text>
<rect class="bar" x="606.85" y="235.45" width="6.0" height="27.75"/>
<line class="eb" x1="609.50" y1="234.95" x2="609.50" y2="234.00"/>
<line class="ec" x1="608.00" y1="234.00" x2="611.00" y2="234.00"/>
<text class="lb" x="609.85" y="232.10" text-anchor="middle">e</text>
<text class="xl" x="609.85" y="274.60" text-anchor="middle">8</text>
<rect class="bar" x="620.15" y="237.45" width="6.0" height="25.75"/>
<line class="eb" x1="623.50" y1="236.95" x2="623.50" y2="236.00"/>
<line class="ec" x1="622.00" y1="236.00" x2="625.00" y2="236.00"/>
<text class="lb" x="623.15" y="234.10" text-anchor="middle">ef</text>
<text class="xl" x="623.15" y="274.60" text-anchor="middle">9</text>
<rect class="bar" x="633.45" y="213.35" width="6.0" height="49.85"/>
<line class="eb" x1="636.50" y1="212.85" x2="636.50" y2="211.90"/>
<line class="ec" x1="635.00" y1="211.90" x2="638.00" y2="211.90"/>
<text class="lb" x="636.45" y="210.00" text-anchor="middle">c</text>
<text class="xl" x="636.45" y="274.60" text-anchor="middle">10</text>
<rect class="bar" x="646.75" y="215.65" width="6.0" height="47.55"/>
<line class="eb" x1="649.50" y1="215.15" x2="649.50" y2="211.90"/>
<line class="ec" x1="648.00" y1="211.90" x2="651.00" y2="211.90"/>
<text class="lb" x="649.75" y="210.00" text-anchor="middle">c</text>
<text class="xl" x="649.75" y="274.60" text-anchor="middle">11</text>
<rect class="bar" x="660.05" y="214.25" width="6.0" height="48.95"/>
<line class="eb" x1="662.50" y1="213.75" x2="662.50" y2="212.80"/>
<line class="ec" x1="661.00" y1="212.80" x2="664.00" y2="212.80"/>
<text class="lb" x="663.05" y="210.90" text-anchor="middle">c</text>
<text class="xl" x="663.05" y="274.60" text-anchor="middle">12</text>
<path class="ax" d="M510.1,156.8 V263.2"/>
<path class="ax" d="M510.1,263.2 H669.7"/>
<path class="ax" d="M507.6,156.80 H510.1"/>
<text class="yl" x="504.30" y="159.40" text-anchor="end">40</text>
<path class="ax" d="M507.6,170.10 H510.1"/>
<text class="yl" x="504.30" y="172.70" text-anchor="end">35</text>
<path class="ax" d="M507.6,183.40 H510.1"/>
<text class="yl" x="504.30" y="186.00" text-anchor="end">30</text>
<path class="ax" d="M507.6,196.70 H510.1"/>
<text class="yl" x="504.30" y="199.30" text-anchor="end">25</text>
<path class="ax" d="M507.6,210.00 H510.1"/>
<text class="yl" x="504.30" y="212.60" text-anchor="end">20</text>
<path class="ax" d="M507.6,223.30 H510.1"/>
<text class="yl" x="504.30" y="225.90" text-anchor="end">15</text>
<path class="ax" d="M507.6,236.60 H510.1"/>
<text class="yl" x="504.30" y="239.20" text-anchor="end">10</text>
<path class="ax" d="M507.6,249.90 H510.1"/>
<text class="yl" x="504.30" y="252.50" text-anchor="end">5</text>
<path class="ax" d="M507.6,263.20 H510.1"/>
<text class="yl" x="504.30" y="265.80" text-anchor="end">0</text>
<path class="ax" d="M510.10,263.2 V265.4"/>
<path class="ax" d="M523.40,263.2 V265.4"/>
<path class="ax" d="M536.70,263.2 V265.4"/>
<path class="ax" d="M550.00,263.2 V265.4"/>
<path class="ax" d="M563.30,263.2 V265.4"/>
<path class="ax" d="M576.60,263.2 V265.4"/>
<path class="ax" d="M589.90,263.2 V265.4"/>
<path class="ax" d="M603.20,263.2 V265.4"/>
<path class="ax" d="M616.50,263.2 V265.4"/>
<path class="ax" d="M629.80,263.2 V265.4"/>
<path class="ax" d="M643.10,263.2 V265.4"/>
<path class="ax" d="M656.40,263.2 V265.4"/>
<path class="ax" d="M669.70,263.2 V265.4"/>
<text x="10.1" y="300.8" class="pl">g</text>
<text class="ti" style="font-size:8.52px" transform="translate(39.76,352.10) rotate(-90)" text-anchor="middle">Proline (mg/g FW)</text>
<rect class="bar" x="64.45" y="387.45" width="6.0" height="18.75"/>
<line class="eb" x1="67.50" y1="386.95" x2="67.50" y2="381.40"/>
<line class="ec" x1="66.00" y1="381.40" x2="69.00" y2="381.40"/>
<text class="lb" x="67.45" y="379.50" text-anchor="middle">d</text>
<text class="xl" x="67.45" y="417.60" text-anchor="middle">1</text>
<rect class="bar" x="77.15" y="335.55" width="6.0" height="70.65"/>
<line class="eb" x1="80.50" y1="335.05" x2="80.50" y2="325.70"/>
<line class="ec" x1="79.00" y1="325.70" x2="82.00" y2="325.70"/>
<text class="lb" x="80.15" y="323.80" text-anchor="middle">b</text>
<text class="xl" x="80.15" y="417.60" text-anchor="middle">2</text>
<rect class="bar" x="89.85" y="356.35" width="6.0" height="49.85"/>
<line class="eb" x1="92.50" y1="355.85" x2="92.50" y2="351.80"/>
<line class="ec" x1="91.00" y1="351.80" x2="94.00" y2="351.80"/>
<text class="lb" x="92.85" y="349.90" text-anchor="middle">b</text>
<text class="xl" x="92.85" y="417.60" text-anchor="middle">3</text>
<rect class="bar" x="102.55" y="314.35" width="6.0" height="91.85"/>
<line class="eb" x1="105.50" y1="313.85" x2="105.50" y2="308.20"/>
<line class="ec" x1="104.00" y1="308.20" x2="107.00" y2="308.20"/>
<text class="lb" x="105.55" y="306.30" text-anchor="middle">a</text>
<text class="xl" x="105.55" y="417.60" text-anchor="middle">4</text>
<rect class="bar" x="115.25" y="348.65" width="6.0" height="57.55"/>
<line class="eb" x1="118.50" y1="348.15" x2="118.50" y2="328.30"/>
<line class="ec" x1="117.00" y1="328.30" x2="120.00" y2="328.30"/>
<text class="lb" x="118.25" y="326.40" text-anchor="middle">b</text>
<text class="xl" x="118.25" y="417.60" text-anchor="middle">5</text>
<rect class="bar" x="127.95" y="372.45" width="6.0" height="33.75"/>
<line class="eb" x1="130.50" y1="371.95" x2="130.50" y2="363.30"/>
<line class="ec" x1="129.00" y1="363.30" x2="132.00" y2="363.30"/>
<text class="lb" x="130.95" y="361.40" text-anchor="middle">c</text>
<text class="xl" x="130.95" y="417.60" text-anchor="middle">6</text>
<rect class="bar" x="140.65" y="398.25" width="6.0" height="7.95"/>
<line class="eb" x1="143.50" y1="397.75" x2="143.50" y2="387.40"/>
<line class="ec" x1="142.00" y1="387.40" x2="145.00" y2="387.40"/>
<text class="lb" x="143.65" y="385.50" text-anchor="middle">d</text>
<text class="xl" x="143.65" y="417.60" text-anchor="middle">7</text>
<rect class="bar" x="153.35" y="371.45" width="6.0" height="34.75"/>
<line class="eb" x1="156.50" y1="370.95" x2="156.50" y2="364.00"/>
<line class="ec" x1="155.00" y1="364.00" x2="158.00" y2="364.00"/>
<text class="lb" x="156.35" y="362.10" text-anchor="middle">c</text>
<text class="xl" x="156.35" y="417.60" text-anchor="middle">8</text>
<rect class="bar" x="166.05" y="373.45" width="6.0" height="32.75"/>
<line class="eb" x1="168.50" y1="372.95" x2="168.50" y2="363.50"/>
<line class="ec" x1="167.00" y1="363.50" x2="170.00" y2="363.50"/>
<text class="lb" x="169.05" y="361.60" text-anchor="middle">c</text>
<text class="xl" x="169.05" y="417.60" text-anchor="middle">9</text>
<rect class="bar" x="178.75" y="370.45" width="6.0" height="35.75"/>
<line class="eb" x1="181.50" y1="369.95" x2="181.50" y2="364.30"/>
<line class="ec" x1="180.00" y1="364.30" x2="183.00" y2="364.30"/>
<text class="lb" x="181.75" y="362.40" text-anchor="middle">c</text>
<text class="xl" x="181.75" y="417.60" text-anchor="middle">10</text>
<rect class="bar" x="191.45" y="380.45" width="6.0" height="25.75"/>
<line class="eb" x1="194.50" y1="379.95" x2="194.50" y2="365.30"/>
<line class="ec" x1="193.00" y1="365.30" x2="196.00" y2="365.30"/>
<text class="lb" x="194.45" y="363.40" text-anchor="middle">c</text>
<text class="xl" x="194.45" y="417.60" text-anchor="middle">11</text>
<rect class="bar" x="204.15" y="373.15" width="6.0" height="33.05"/>
<line class="eb" x1="207.50" y1="372.65" x2="207.50" y2="363.30"/>
<line class="ec" x1="206.00" y1="363.30" x2="209.00" y2="363.30"/>
<text class="lb" x="207.15" y="361.40" text-anchor="middle">c</text>
<text class="xl" x="207.15" y="417.60" text-anchor="middle">12</text>
<path class="ax" d="M61.1,298.4 V406.2"/>
<path class="ax" d="M61.1,406.2 H213.5"/>
<path class="ax" d="M58.6,298.40 H61.1"/>
<text class="yl" x="55.30" y="301.00" text-anchor="end">900</text>
<path class="ax" d="M58.6,310.38 H61.1"/>
<text class="yl" x="55.30" y="312.98" text-anchor="end">800</text>
<path class="ax" d="M58.6,322.36 H61.1"/>
<text class="yl" x="55.30" y="324.96" text-anchor="end">700</text>
<path class="ax" d="M58.6,334.33 H61.1"/>
<text class="yl" x="55.30" y="336.93" text-anchor="end">600</text>
<path class="ax" d="M58.6,346.31 H61.1"/>
<text class="yl" x="55.30" y="348.91" text-anchor="end">500</text>
<path class="ax" d="M58.6,358.29 H61.1"/>
<text class="yl" x="55.30" y="360.89" text-anchor="end">400</text>
<path class="ax" d="M58.6,370.27 H61.1"/>
<text class="yl" x="55.30" y="372.87" text-anchor="end">300</text>
<path class="ax" d="M58.6,382.24 H61.1"/>
<text class="yl" x="55.30" y="384.84" text-anchor="end">200</text>
<path class="ax" d="M58.6,394.22 H61.1"/>
<text class="yl" x="55.30" y="396.82" text-anchor="end">100</text>
<path class="ax" d="M58.6,406.20 H61.1"/>
<text class="yl" x="55.30" y="408.80" text-anchor="end">0</text>
<path class="ax" d="M61.10,406.2 V408.4"/>
<path class="ax" d="M73.80,406.2 V408.4"/>
<path class="ax" d="M86.50,406.2 V408.4"/>
<path class="ax" d="M99.20,406.2 V408.4"/>
<path class="ax" d="M111.90,406.2 V408.4"/>
<path class="ax" d="M124.60,406.2 V408.4"/>
<path class="ax" d="M137.30,406.2 V408.4"/>
<path class="ax" d="M150.00,406.2 V408.4"/>
<path class="ax" d="M162.70,406.2 V408.4"/>
<path class="ax" d="M175.40,406.2 V408.4"/>
<path class="ax" d="M188.10,406.2 V408.4"/>
<path class="ax" d="M200.80,406.2 V408.4"/>
<path class="ax" d="M213.50,406.2 V408.4"/>
<text x="240.8" y="304.7" class="pl">h</text>
<text class="ti" style="font-size:8.4px" transform="translate(270.32,355.20) rotate(-90)" text-anchor="middle">POD (U/g FW)</text>
<rect class="bar" x="290.19" y="336.45" width="6.0" height="70.85"/>
<line class="eb" x1="293.50" y1="335.95" x2="293.50" y2="332.50"/>
<line class="ec" x1="292.00" y1="332.50" x2="295.00" y2="332.50"/>
<text class="lb" x="293.19" y="330.60" text-anchor="middle">a</text>
<text class="xl" x="293.19" y="418.70" text-anchor="middle">1</text>
<rect class="bar" x="303.18" y="327.15" width="6.0" height="80.15"/>
<line class="eb" x1="306.50" y1="326.65" x2="306.50" y2="324.00"/>
<line class="ec" x1="305.00" y1="324.00" x2="308.00" y2="324.00"/>
<text class="lb" x="306.18" y="322.10" text-anchor="middle">a</text>
<text class="xl" x="306.18" y="418.70" text-anchor="middle">2</text>
<rect class="bar" x="316.16" y="317.75" width="6.0" height="89.55"/>
<line class="eb" x1="319.50" y1="317.25" x2="319.50" y2="314.90"/>
<line class="ec" x1="318.00" y1="314.90" x2="321.00" y2="314.90"/>
<text class="lb" x="319.16" y="313.00" text-anchor="middle">a</text>
<text class="xl" x="319.16" y="418.70" text-anchor="middle">3</text>
<rect class="bar" x="329.14" y="355.35" width="6.0" height="51.95"/>
<line class="eb" x1="332.50" y1="354.85" x2="332.50" y2="349.20"/>
<line class="ec" x1="331.00" y1="349.20" x2="334.00" y2="349.20"/>
<text class="lb" x="332.14" y="347.30" text-anchor="middle">b</text>
<text class="xl" x="332.14" y="418.70" text-anchor="middle">4</text>
<rect class="bar" x="342.12" y="363.75" width="6.0" height="43.55"/>
<line class="eb" x1="345.50" y1="363.25" x2="345.50" y2="356.50"/>
<line class="ec" x1="344.00" y1="356.50" x2="347.00" y2="356.50"/>
<text class="lb" x="345.12" y="354.60" text-anchor="middle">c</text>
<text class="xl" x="345.12" y="418.70" text-anchor="middle">5</text>
<rect class="bar" x="355.11" y="384.15" width="6.0" height="23.15"/>
<line class="eb" x1="358.50" y1="383.65" x2="358.50" y2="380.40"/>
<line class="ec" x1="357.00" y1="380.40" x2="360.00" y2="380.40"/>
<text class="lb" x="358.11" y="378.50" text-anchor="middle">d</text>
<text class="xl" x="358.11" y="418.70" text-anchor="middle">6</text>
<rect class="bar" x="368.09" y="405.05" width="6.0" height="2.25"/>
<line class="eb" x1="370.50" y1="404.55" x2="370.50" y2="402.90"/>
<line class="ec" x1="369.00" y1="402.90" x2="372.00" y2="402.90"/>
<text class="lb" x="371.09" y="401.00" text-anchor="middle">f</text>
<text class="xl" x="371.09" y="418.70" text-anchor="middle">7</text>
<rect class="bar" x="381.07" y="396.65" width="6.0" height="10.65"/>
<line class="eb" x1="383.50" y1="396.15" x2="383.50" y2="390.10"/>
<line class="ec" x1="382.00" y1="390.10" x2="385.00" y2="390.10"/>
<text class="lb" x="384.07" y="388.20" text-anchor="middle">e</text>
<text class="xl" x="384.07" y="418.70" text-anchor="middle">8</text>
<rect class="bar" x="394.06" y="383.85" width="6.0" height="23.45"/>
<line class="eb" x1="396.50" y1="383.35" x2="396.50" y2="381.40"/>
<line class="ec" x1="395.00" y1="381.40" x2="398.00" y2="381.40"/>
<text class="lb" x="397.06" y="379.50" text-anchor="middle">d</text>
<text class="xl" x="397.06" y="418.70" text-anchor="middle">9</text>
<rect class="bar" x="407.04" y="382.15" width="6.0" height="25.15"/>
<line class="eb" x1="409.50" y1="381.65" x2="409.50" y2="374.00"/>
<line class="ec" x1="408.00" y1="374.00" x2="411.00" y2="374.00"/>
<text class="lb" x="410.04" y="372.10" text-anchor="middle">d</text>
<text class="xl" x="410.04" y="418.70" text-anchor="middle">10</text>
<rect class="bar" x="420.02" y="365.05" width="6.0" height="42.25"/>
<line class="eb" x1="422.50" y1="364.55" x2="422.50" y2="359.20"/>
<line class="ec" x1="421.00" y1="359.20" x2="424.00" y2="359.20"/>
<text class="lb" x="423.02" y="357.30" text-anchor="middle">c</text>
<text class="xl" x="423.02" y="418.70" text-anchor="middle">11</text>
<rect class="bar" x="433.01" y="373.15" width="6.0" height="34.15"/>
<line class="eb" x1="435.50" y1="372.65" x2="435.50" y2="366.00"/>
<line class="ec" x1="434.00" y1="366.00" x2="437.00" y2="366.00"/>
<text class="lb" x="436.01" y="364.10" text-anchor="middle">d</text>
<text class="xl" x="436.01" y="418.70" text-anchor="middle">12</text>
<path class="ax" d="M286.7,303.3 V407.3"/>
<path class="ax" d="M286.7,407.3 H442.5"/>
<path class="ax" d="M284.2,303.30 H286.7"/>
<text class="yl" x="280.90" y="305.90" text-anchor="end">25</text>
<path class="ax" d="M284.2,324.10 H286.7"/>
<text class="yl" x="280.90" y="326.70" text-anchor="end">20</text>
<path class="ax" d="M284.2,344.90 H286.7"/>
<text class="yl" x="280.90" y="347.50" text-anchor="end">15</text>
<path class="ax" d="M284.2,365.70 H286.7"/>
<text class="yl" x="280.90" y="368.30" text-anchor="end">10</text>
<path class="ax" d="M284.2,386.50 H286.7"/>
<text class="yl" x="280.90" y="389.10" text-anchor="end">5</text>
<path class="ax" d="M284.2,407.30 H286.7"/>
<text class="yl" x="280.90" y="409.90" text-anchor="end">0</text>
<path class="ax" d="M286.70,407.3 V409.5"/>
<path class="ax" d="M299.68,407.3 V409.5"/>
<path class="ax" d="M312.67,407.3 V409.5"/>
<path class="ax" d="M325.65,407.3 V409.5"/>
<path class="ax" d="M338.63,407.3 V409.5"/>
<path class="ax" d="M351.62,407.3 V409.5"/>
<path class="ax" d="M364.60,407.3 V409.5"/>
<path class="ax" d="M377.58,407.3 V409.5"/>
<path class="ax" d="M390.57,407.3 V409.5"/>
<path class="ax" d="M403.55,407.3 V409.5"/>
<path class="ax" d="M416.53,407.3 V409.5"/>
<path class="ax" d="M429.52,407.3 V409.5"/>
<path class="ax" d="M442.50,407.3 V409.5"/>
<text x="467.3" y="304.7" class="pl">i</text>
<text class="ti" style="font-size:8.46px" transform="translate(492.74,354.60) rotate(-90)" text-anchor="middle">MDA (umol/g FW)</text>
<rect class="bar" x="513.18" y="346.25" width="6.0" height="60.95"/>
<line class="eb" x1="516.50" y1="345.75" x2="516.50" y2="334.60"/>
<line class="ec" x1="515.00" y1="334.60" x2="518.00" y2="334.60"/>
<text class="lb" x="516.18" y="332.70" text-anchor="middle">bc</text>
<text class="xl" x="516.18" y="418.60" text-anchor="middle">1</text>
<rect class="bar" x="526.55" y="360.65" width="6.0" height="46.55"/>
<line class="eb" x1="529.50" y1="360.15" x2="529.50" y2="353.30"/>
<line class="ec" x1="528.00" y1="353.30" x2="531.00" y2="353.30"/>
<text class="lb" x="529.55" y="351.40" text-anchor="middle">cd</text>
<text class="xl" x="529.55" y="418.60" text-anchor="middle">2</text>
<rect class="bar" x="539.92" y="353.95" width="6.0" height="53.25"/>
<line class="eb" x1="542.50" y1="353.45" x2="542.50" y2="345.00"/>
<line class="ec" x1="541.00" y1="345.00" x2="544.00" y2="345.00"/>
<text class="lb" x="542.92" y="343.10" text-anchor="middle">c</text>
<text class="xl" x="542.92" y="418.60" text-anchor="middle">3</text>
<rect class="bar" x="553.28" y="338.55" width="6.0" height="68.65"/>
<line class="eb" x1="556.50" y1="338.05" x2="556.50" y2="324.00"/>
<line class="ec" x1="555.00" y1="324.00" x2="558.00" y2="324.00"/>
<text class="lb" x="556.28" y="322.10" text-anchor="middle">b</text>
<text class="xl" x="556.28" y="418.60" text-anchor="middle">4</text>
<rect class="bar" x="566.65" y="384.55" width="6.0" height="22.65"/>
<line class="eb" x1="569.50" y1="384.05" x2="569.50" y2="381.10"/>
<line class="ec" x1="568.00" y1="381.10" x2="571.00" y2="381.10"/>
<text class="lb" x="569.65" y="379.20" text-anchor="middle">e</text>
<text class="xl" x="569.65" y="418.60" text-anchor="middle">5</text>
<rect class="bar" x="580.02" y="362.35" width="6.0" height="44.85"/>
<line class="eb" x1="582.50" y1="361.85" x2="582.50" y2="351.20"/>
<line class="ec" x1="581.00" y1="351.20" x2="584.00" y2="351.20"/>
<text class="lb" x="583.02" y="349.30" text-anchor="middle">cd</text>
<text class="xl" x="583.02" y="418.60" text-anchor="middle">6</text>
<rect class="bar" x="593.38" y="358.65" width="6.0" height="48.55"/>
<line class="eb" x1="596.50" y1="358.15" x2="596.50" y2="354.20"/>
<line class="ec" x1="595.00" y1="354.20" x2="598.00" y2="354.20"/>
<text class="lb" x="596.38" y="352.30" text-anchor="middle">cd</text>
<text class="xl" x="596.38" y="418.60" text-anchor="middle">7</text>
<rect class="bar" x="606.75" y="327.15" width="6.0" height="80.05"/>
<line class="eb" x1="609.50" y1="326.65" x2="609.50" y2="322.30"/>
<line class="ec" x1="608.00" y1="322.30" x2="611.00" y2="322.30"/>
<text class="lb" x="609.75" y="320.40" text-anchor="middle">a</text>
<text class="xl" x="609.75" y="418.60" text-anchor="middle">8</text>
<rect class="bar" x="620.12" y="333.45" width="6.0" height="73.75"/>
<line class="eb" x1="623.50" y1="332.95" x2="623.50" y2="327.30"/>
<line class="ec" x1="622.00" y1="327.30" x2="625.00" y2="327.30"/>
<text class="lb" x="623.12" y="325.40" text-anchor="middle">ab</text>
<text class="xl" x="623.12" y="418.60" text-anchor="middle">9</text>
<rect class="bar" x="633.48" y="354.65" width="6.0" height="52.55"/>
<line class="eb" x1="636.50" y1="354.15" x2="636.50" y2="350.50"/>
<line class="ec" x1="635.00" y1="350.50" x2="638.00" y2="350.50"/>
<text class="lb" x="636.48" y="348.60" text-anchor="middle">c</text>
<text class="xl" x="636.48" y="418.60" text-anchor="middle">10</text>
<rect class="bar" x="646.85" y="366.45" width="6.0" height="40.75"/>
<line class="eb" x1="649.50" y1="365.95" x2="649.50" y2="362.60"/>
<line class="ec" x1="648.00" y1="362.60" x2="651.00" y2="362.60"/>
<text class="lb" x="649.85" y="360.70" text-anchor="middle">d</text>
<text class="xl" x="649.85" y="418.60" text-anchor="middle">11</text>
<rect class="bar" x="660.22" y="360.65" width="6.0" height="46.55"/>
<line class="eb" x1="663.50" y1="360.15" x2="663.50" y2="356.50"/>
<line class="ec" x1="662.00" y1="356.50" x2="665.00" y2="356.50"/>
<text class="lb" x="663.22" y="354.60" text-anchor="middle">cd</text>
<text class="xl" x="663.22" y="418.60" text-anchor="middle">12</text>
<path class="ax" d="M509.5,303.3 V407.2"/>
<path class="ax" d="M509.5,407.2 H669.9"/>
<path class="ax" d="M507.0,303.30 H509.5"/>
<text class="yl" x="503.70" y="305.90" text-anchor="end">70</text>
<path class="ax" d="M507.0,318.14 H509.5"/>
<text class="yl" x="503.70" y="320.74" text-anchor="end">60</text>
<path class="ax" d="M507.0,332.99 H509.5"/>
<text class="yl" x="503.70" y="335.59" text-anchor="end">50</text>
<path class="ax" d="M507.0,347.83 H509.5"/>
<text class="yl" x="503.70" y="350.43" text-anchor="end">40</text>
<path class="ax" d="M507.0,362.67 H509.5"/>
<text class="yl" x="503.70" y="365.27" text-anchor="end">30</text>
<path class="ax" d="M507.0,377.51 H509.5"/>
<text class="yl" x="503.70" y="380.11" text-anchor="end">20</text>
<path class="ax" d="M507.0,392.36 H509.5"/>
<text class="yl" x="503.70" y="394.96" text-anchor="end">10</text>
<path class="ax" d="M507.0,407.20 H509.5"/>
<text class="yl" x="503.70" y="409.80" text-anchor="end">0</text>
<path class="ax" d="M509.50,407.2 V409.4"/>
<path class="ax" d="M522.87,407.2 V409.4"/>
<path class="ax" d="M536.23,407.2 V409.4"/>
<path class="ax" d="M549.60,407.2 V409.4"/>
<path class="ax" d="M562.97,407.2 V409.4"/>
<path class="ax" d="M576.33,407.2 V409.4"/>
<path class="ax" d="M589.70,407.2 V409.4"/>
<path class="ax" d="M603.07,407.2 V409.4"/>
<path class="ax" d="M616.43,407.2 V409.4"/>
<path class="ax" d="M629.80,407.2 V409.4"/>
<path class="ax" d="M643.17,407.2 V409.4"/>
<path class="ax" d="M656.53,407.2 V409.4"/>
<path class="ax" d="M669.90,407.2 V409.4"/>
</svg>
</body></html>
